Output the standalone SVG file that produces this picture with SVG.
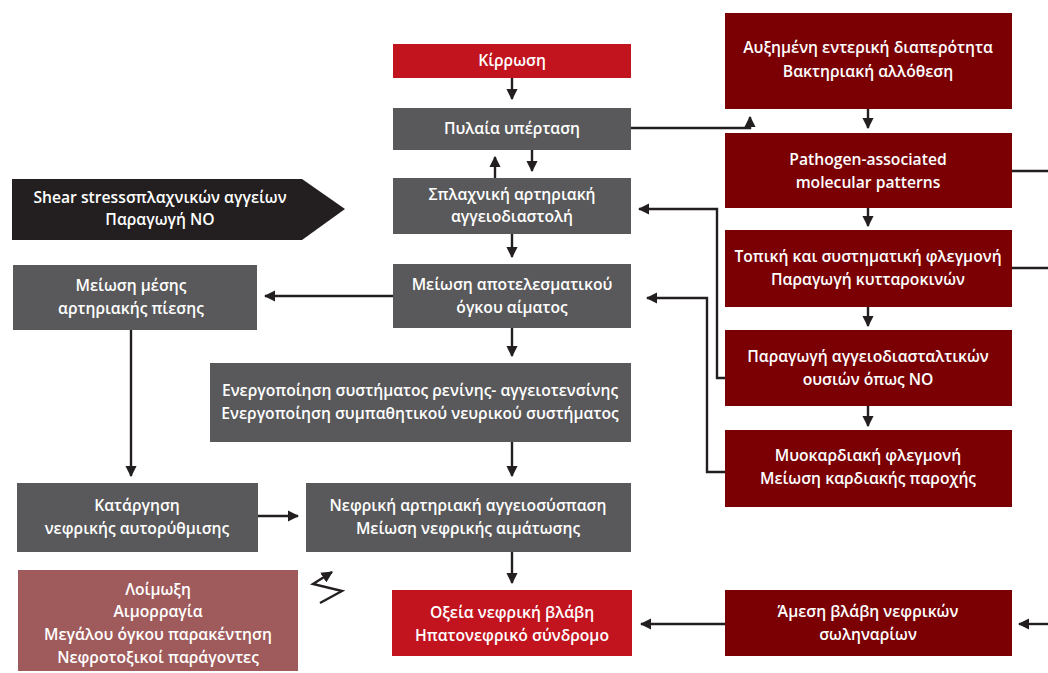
<svg xmlns="http://www.w3.org/2000/svg" width="1048" height="673" viewBox="0 0 1048 673">
  <defs>
    <marker id="arrow" viewBox="0 0 10 10" refX="9" refY="5" markerWidth="4.8" markerHeight="4.8" orient="auto" markerUnits="strokeWidth">
      <path d="M0,0 L10,5 L0,10 z" fill="#231f20"/>
    </marker>
    <style>
      .gray { fill: #59595b; }
      .dark { fill: #7a0004; }
      .red { fill: #c2141f; }
      .rose { fill: #9f5b5c; }
      .black { fill: #231f20; }
      text { font-family: "Open Sans", "Noto Sans", "DejaVu Sans", sans-serif; font-size: 15.7px; font-weight: 600; fill: #ffffff; text-anchor: middle; }
      .conn path, .conn line { fill: none; stroke: #231f20; stroke-width: 2.4; }
    </style>
  </defs>
  <rect width="1048" height="673" fill="#ffffff"/>

  <!-- central column -->
  <g id="cirrhosis">
    <rect class="red" x="393" y="44" width="238" height="34"/>
    <text x="512" y="66">Κίρρωση</text>
  </g>
  <g id="portal-hypertension">
    <rect class="gray" x="393" y="108" width="238" height="42"/>
    <text x="512" y="134">Πυλαία υπέρταση</text>
  </g>
  <g id="splanchnic-vasodilation">
    <rect class="gray" x="393" y="178" width="238" height="56"/>
    <text x="512" y="200">Σπλαχνική αρτηριακή</text>
    <text x="512" y="222">αγγειοδιαστολή</text>
  </g>
  <g id="effective-volume">
    <rect class="gray" x="393" y="264" width="238" height="64"/>
    <text x="512" y="290">Μείωση αποτελεσματικού</text>
    <text x="512" y="313">όγκου αίματος</text>
  </g>
  <g id="raas-activation">
    <rect class="gray" x="210" y="363" width="421" height="79"/>
    <text x="420" y="396">Ενεργοποίηση συστήματος ρενίνης- αγγειοτενσίνης</text>
    <text x="420" y="419">Ενεργοποίηση συμπαθητικού νευρικού συστήματος</text>
  </g>
  <g id="renal-vasoconstriction">
    <rect class="gray" x="306" y="483" width="325" height="69"/>
    <text x="468" y="511">Νεφρική αρτηριακή αγγειοσύσπαση</text>
    <text x="468" y="534">Μείωση νεφρικής αιμάτωσης</text>
  </g>
  <g id="acute-kidney-injury">
    <rect class="red" x="392" y="590" width="240" height="66"/>
    <text x="512" y="618">Οξεία νεφρική βλάβη</text>
    <text x="512" y="641">Ηπατονεφρικό σύνδρομο</text>
  </g>

  <!-- left column -->
  <g id="shear-stress">
    <path class="black" d="M12,179 H302 L345,209 L302,240 H12 z"/>
    <text x="160" y="203">Shear stressσπλαχνικών αγγείων</text>
    <text x="160" y="225">Παραγωγή NO</text>
  </g>
  <g id="mean-pressure">
    <rect class="gray" x="13" y="265" width="244" height="65"/>
    <text x="131" y="291">Μείωση μέσης</text>
    <text x="131" y="314">αρτηριακής πίεσης</text>
  </g>
  <g id="autoregulation">
    <rect class="gray" x="17" y="483" width="241" height="69"/>
    <text x="137" y="511">Κατάργηση</text>
    <text x="137" y="534">νεφρικής αυτορύθμισης</text>
  </g>
  <g id="precipitants">
    <rect class="rose" x="18" y="570" width="280" height="101"/>
    <text x="158" y="595">Λοίμωξη</text>
    <text x="158" y="617">Αιμορραγία</text>
    <text x="158" y="640">Μεγάλου όγκου παρακέντηση</text>
    <text x="158" y="663">Νεφροτοξικοί παράγοντες</text>
  </g>

  <!-- right column -->
  <g id="gut-permeability">
    <rect class="dark" x="725" y="13" width="287" height="96"/>
    <text x="868" y="53">Αυξημένη εντερική διαπερότητα</text>
    <text x="868" y="77">Βακτηριακή αλλόθεση</text>
  </g>
  <g id="pamps">
    <rect class="dark" x="725" y="133" width="287" height="75"/>
    <text x="868" y="165">Pathogen-associated</text>
    <text x="868" y="188">molecular patterns</text>
  </g>
  <g id="inflammation">
    <rect class="dark" x="725" y="230" width="287" height="77"/>
    <text x="868" y="262">Τοπική και συστηματική φλεγμονή</text>
    <text x="868" y="285">Παραγωγή κυτταροκινών</text>
  </g>
  <g id="vasodilators">
    <rect class="dark" x="725" y="330" width="287" height="76"/>
    <text x="868" y="362">Παραγωγή αγγειοδιασταλτικών</text>
    <text x="868" y="385">ουσιών όπως NO</text>
  </g>
  <g id="myocardial">
    <rect class="dark" x="725" y="430" width="287" height="77"/>
    <text x="868" y="461">Μυοκαρδιακή φλεγμονή</text>
    <text x="868" y="484">Μείωση καρδιακής παροχής</text>
  </g>
  <g id="tubular-injury">
    <rect class="dark" x="725" y="590" width="287" height="66"/>
    <text x="868" y="617">Άμεση βλάβη νεφρικών</text>
    <text x="868" y="640">σωληναρίων</text>
  </g>

  <!-- connectors -->
  <g class="conn">
    <line x1="512" y1="78" x2="512" y2="99" marker-end="url(#arrow)"/>
    <line x1="532" y1="150" x2="532" y2="171" marker-end="url(#arrow)"/>
    <line x1="495" y1="178" x2="495" y2="157" marker-end="url(#arrow)"/>
    <line x1="512" y1="234" x2="512" y2="257" marker-end="url(#arrow)"/>
    <line x1="393" y1="296" x2="265" y2="296" marker-end="url(#arrow)"/>
    <line x1="512" y1="328" x2="512" y2="356" marker-end="url(#arrow)"/>
    <line x1="512" y1="442" x2="512" y2="476" marker-end="url(#arrow)"/>
    <line x1="512" y1="552" x2="512" y2="583" marker-end="url(#arrow)"/>
    <line x1="131" y1="330" x2="131" y2="476" marker-end="url(#arrow)"/>
    <line x1="258" y1="516" x2="298" y2="516" marker-end="url(#arrow)"/>
    <line x1="725" y1="624" x2="641" y2="624" marker-end="url(#arrow)"/>
    <line x1="1048" y1="624" x2="1019" y2="624" marker-end="url(#arrow)"/>
    <path d="M631,128 H750 V117" marker-end="url(#arrow)"/>
    <path d="M725,378 H717 V209 H639" marker-end="url(#arrow)"/>
    <path d="M725,472 H707 V298 H647" marker-end="url(#arrow)"/>
    <line x1="868" y1="109" x2="868" y2="128" marker-end="url(#arrow)"/>
    <line x1="868" y1="208" x2="868" y2="226" marker-end="url(#arrow)"/>
    <line x1="868" y1="307" x2="868" y2="326" marker-end="url(#arrow)"/>
    <line x1="868" y1="406" x2="868" y2="426" marker-end="url(#arrow)"/>
    <line x1="1012" y1="171" x2="1048" y2="171"/>
    <line x1="1012" y1="268" x2="1048" y2="268"/>
    <path d="M320,603 L342,591 L313,584 L332,572" marker-end="url(#arrow)"/>
  </g>
</svg>
